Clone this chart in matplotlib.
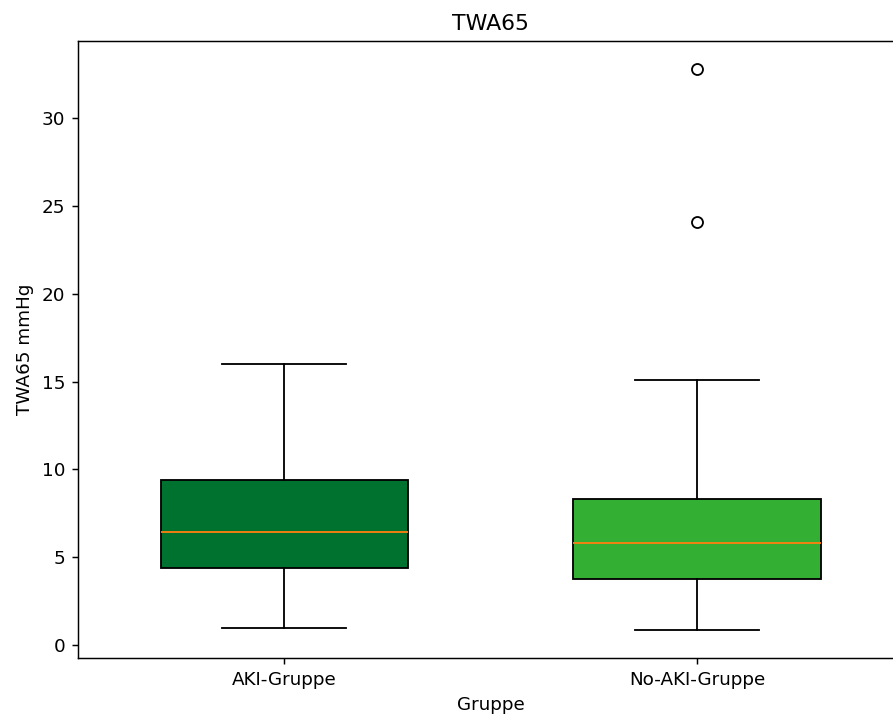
import matplotlib
matplotlib.use("Agg")
import matplotlib.pyplot as plt

groups = ["AKI-Gruppe", "No-AKI-Gruppe"]
whislo = [0.95, 0.85]
q1 = [4.37, 3.75]
med = [6.42, 5.82]
q3 = [9.37, 8.32]
whishi = [16.0, 15.07]
fliers = [[], [24.1, 32.8]]
colors = ["#007230", "#33b033"]

stats = []
for i, g in enumerate(groups):
    stats.append(dict(label=g, whislo=whislo[i], q1=q1[i], med=med[i],
                      q3=q3[i], whishi=whishi[i], fliers=fliers[i]))

DPI = 132
fig = plt.figure(figsize=(893 / DPI, 717 / DPI), dpi=DPI)
left = 78 / 893
bottom = (717 - 658) / 717
width = (903.5 - 78) / 893
height = (658 - 41) / 717
ax = fig.add_axes([left, bottom, width, height])

bp = ax.bxp(stats, widths=0.6, patch_artist=True)
for patch, c in zip(bp["boxes"], colors):
    patch.set_facecolor(c)
    patch.set_edgecolor("black")

ax.set_title("TWA65")
ax.set_xlabel("Gruppe")
ax.set_ylabel("TWA65 mmHg")

fig.savefig("out.png", dpi=DPI)
